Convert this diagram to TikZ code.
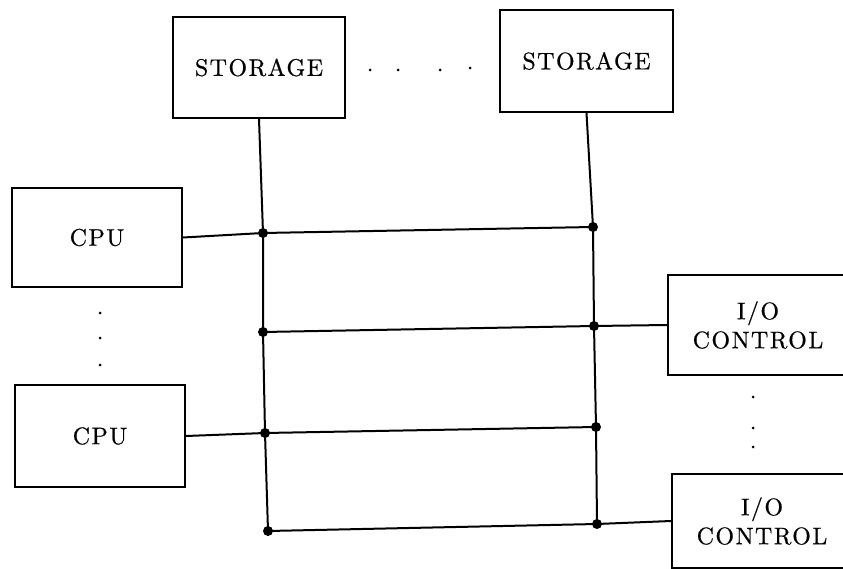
\documentclass[tikz,border=0pt]{standalone}
\usepackage{fontspec}
\newfontfamily\lblfont[LetterSpace=6,FakeBold=0.6]{lmroman10-regular.otf}
\begin{document}
\begin{tikzpicture}[x=1pt,y=-1pt,
  unit/.style={draw=black,line width=2pt,inner sep=0pt,align=center,
    font=\lblfont\fontsize{24}{29}\selectfont},
  bus/.style={line width=2pt},
  junction/.style={circle,fill=black,inner sep=0pt,minimum size=10pt},
  ellipsisdot/.style={circle,fill=black,inner sep=0pt,minimum size=3pt}]
\useasboundingbox (0,0) rectangle (843,569);
\clip (0,0) rectangle (843,569);

% functional units
\node[unit,minimum width=172pt,minimum height=101pt] (st1) at (259,67.5) {STORAGE};
\node[unit,minimum width=173pt,minimum height=102pt] (st2) at (586.5,61) {STORAGE};
\node[unit,minimum width=170pt,minimum height=99pt]  (cpu1) at (97,237.5) {CPU};
\node[unit,minimum width=170pt,minimum height=102pt] (cpu2) at (100,436) {CPU};
\node[unit,minimum width=180pt,minimum height=100pt] (io1) at (758,325) {I/O\\CONTROL};
\node[unit,minimum width=180pt,minimum height=94pt]  (io2) at (762,521) {I/O\\CONTROL};

% bus junctions
\node[junction] (l1) at (263,233) {};
\node[junction] (l2) at (263,332) {};
\node[junction] (l3) at (265,433) {};
\node[junction] (l4) at (268,531) {};
\node[junction] (r1) at (593,227) {};
\node[junction] (r2) at (594,326) {};
\node[junction] (r3) at (596,427) {};
\node[junction] (r4) at (597,524) {};

% vertical buses from the storage units
\draw[bus] (st1.south) -- (l1.center) -- (l2.center) -- (l3.center) -- (l4.center);
\draw[bus] (st2.south) -- (r1.center) -- (r2.center) -- (r3.center) -- (r4.center);

% horizontal links
\draw[bus] (cpu1.east) -- (l1.center) -- (r1.center);
\draw[bus] (l2.center) -- (r2.center) -- (io1.west);
\draw[bus] (cpu2.east) -- (l3.center) -- (r3.center);
\draw[bus] (l4.center) -- (r4.center) -- (io2.west);

% ellipsis dots
\node[ellipsisdot] (h1) at (370,70) {};
\node[ellipsisdot] (h2) at (398,70) {};
\node[ellipsisdot] (h3) at (440,70) {};
\node[ellipsisdot] (h4) at (470,68) {};
\node[ellipsisdot] (c1) at (100,313) {};
\node[ellipsisdot] (c2) at (100,338) {};
\node[ellipsisdot] (c3) at (100,365) {};
\node[ellipsisdot] (i1) at (753,397) {};
\node[ellipsisdot] (i2) at (753,428) {};
\node[ellipsisdot] (i3) at (753,447) {};
\end{tikzpicture}
\end{document}
